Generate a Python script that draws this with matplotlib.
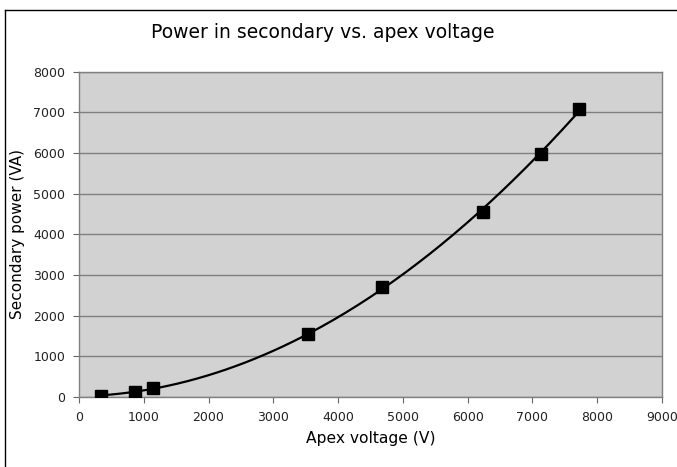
import numpy as np
import matplotlib
matplotlib.use("Agg")
import matplotlib.pyplot as plt
from matplotlib.lines import Line2D

apex_voltage = [335, 864, 1147, 3530, 4672, 6232, 7132, 7713]
secondary_power = [25, 123, 222, 1544, 2709, 4549, 5970, 7086]
x_ticks = [0, 1000, 2000, 3000, 4000, 5000, 6000, 7000, 8000, 9000]
y_ticks = [0, 1000, 2000, 3000, 4000, 5000, 6000, 7000, 8000]

plt.rcParams['font.family'] = ['DejaVu Sans']

fig = plt.figure(figsize=(6.77, 4.67), dpi=100)
ax = fig.add_axes([79/677, 1-397/467, (662-79)/677, (397-71.7)/467])

ax.set_facecolor('#d2d2d2')
ax.set_xlim(0, 9000)
ax.set_ylim(0, 8000)
ax.set_xticks(x_ticks)
ax.set_yticks(y_ticks)
ax.tick_params(labelsize=9, labelcolor='#222222', length=4, width=0.8, direction='out', pad=6,
               color='#666666')
ax.grid(axis='y', color='#808080', linewidth=1)
ax.set_axisbelow(True)
for s in ax.spines.values():
    s.set_color('#808080')
    s.set_linewidth(1)

# quadratic trendline through the data
coef = np.polyfit(apex_voltage, secondary_power, 2)
xs = np.linspace(min(apex_voltage), max(apex_voltage), 200)
ax.plot(xs, np.polyval(coef, xs), color='black', linewidth=1.6, zorder=3)
ax.plot(apex_voltage, secondary_power, 's', color='black', markersize=8.5, zorder=4)

ax.set_xlabel('Apex voltage (V)', fontsize=11.2, labelpad=5)
ax.set_ylabel('Secondary power (VA)', fontsize=11, labelpad=6)

fig.text(323/677, 1-33/467, 'Power in secondary vs. apex voltage', fontsize=13.5,
         ha='center', va='center')

# chart border (top and left visible)
fig.add_artist(Line2D([5.5/677, 5.5/677], [0, 1-10/467], transform=fig.transFigure, color='black', linewidth=1))
fig.add_artist(Line2D([5.5/677, 1], [1-10/467, 1-10/467], transform=fig.transFigure, color='black', linewidth=1))

fig.savefig('out.png', dpi=100)
